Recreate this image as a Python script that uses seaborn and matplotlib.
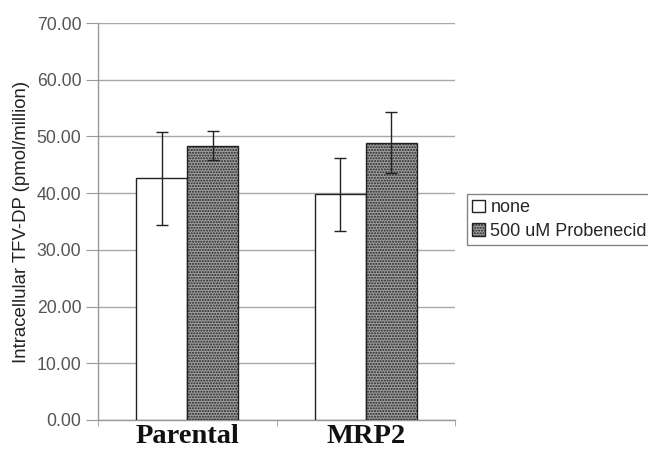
import matplotlib
matplotlib.use("Agg")
import matplotlib.pyplot as plt
import seaborn as sns
import pandas as pd
from matplotlib.patches import Patch

categories = ["Parental", "MRP2"]
treatments = ["none", "500 uM Probenecid"]
none_vals = [42.6, 39.8]
prob_vals = [48.4, 48.9]
none_err = [8.2, 6.4]
prob_err = [2.6, 5.4]
yticks = [0, 10, 20, 30, 40, 50, 60, 70]

df = pd.DataFrame({
    "cat": categories * 2,
    "treat": [treatments[0]] * 2 + [treatments[1]] * 2,
    "val": none_vals + prob_vals,
    "err": none_err + prob_err,
})

sns.set_style("white")
plt.rcParams["font.family"] = ["Liberation Sans", "DejaVu Sans"]
plt.rcParams["hatch.color"] = "#6e6e6e"

fig = plt.figure(figsize=(6.48, 4.53), dpi=100)
ax = fig.add_axes([98/648, 33/453, (455-98)/648, (420-23)/453])

sns.barplot(data=df, x="cat", y="val", hue="treat", order=categories,
            hue_order=treatments, palette=["white", "#a0a0a0"],
            width=0.57, errorbar=None, ax=ax, zorder=3, legend=False)

for i, p in enumerate(ax.patches[:4]):
    p.set_edgecolor("#222222")
    p.set_linewidth(1.0)
    if i >= 2:
        p.set_hatch("......")

errs = none_err + prob_err
vals = none_vals + prob_vals
for p, v, e in zip(ax.patches[:4], vals, errs):
    cx = p.get_x() + p.get_width() / 2
    ax.errorbar(cx, v, yerr=e, fmt="none", ecolor="#222222", elinewidth=1.0,
                capsize=4, capthick=1.0, zorder=5)

ax.set_ylim(0, 70)
ax.set_xlim(-0.5, 1.5)
ax.set_yticks(yticks)
ax.set_yticklabels([f"{t:.2f}" for t in yticks], color="#555555", fontsize=12.7)
ax.yaxis.grid(True, color="#a8a8a8", linewidth=1.0, zorder=0)
ax.set_axisbelow(True)
for s in ["top", "right"]:
    ax.spines[s].set_visible(False)
for s in ["left", "bottom"]:
    ax.spines[s].set_color("#999999")
    ax.spines[s].set_linewidth(1.0)
ax.tick_params(axis="y", length=9, color="#999999", direction="out", left=True, pad=3)
ax.set_xticks([0, 1])
ax.set_xticklabels(categories, fontsize=20.5, fontweight="bold",
                   family="Liberation Serif", color="#111111")
ax.tick_params(axis="x", which="major", length=0, pad=3)
ax.set_xticks([-0.5, 0.5, 1.5], minor=True)
ax.tick_params(axis="x", which="minor", length=4, color="#999999", direction="out", bottom=True)
ax.set_xlabel("")
ax.set_ylabel("Intracellular TFV-DP (pmol/million)", fontsize=13.4, color="#222222", labelpad=5)

h = [Patch(facecolor="white", edgecolor="#222222"),
     Patch(facecolor="#a0a0a0", edgecolor="#222222", hatch="......")]
fig.legend(h, treatments, loc="upper left", bbox_to_anchor=(467/648, 1 - 194/453),
           frameon=True, fancybox=False, edgecolor="#666666", fontsize=13,
           handlelength=0.7, handleheight=0.7, handletextpad=0.3,
           borderpad=0.3, labelspacing=0.35, borderaxespad=0)

fig.savefig("out.png", dpi=100)
